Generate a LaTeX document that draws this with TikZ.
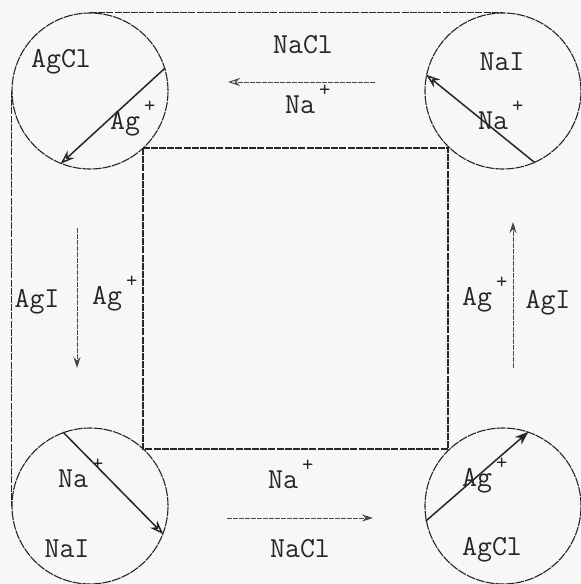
\documentclass[tikz,border=0pt]{standalone}
\usetikzlibrary{arrows.meta}
\definecolor{ink}{HTML}{262626}
\newcommand{\ionplus}[1]{#1\kern4pt\raisebox{17pt}{\fontsize{22}{22}\selectfont +}}
\begin{document}
\begin{tikzpicture}[x=1pt,y=-1pt,
  lbl/.style={font=\ttfamily\fontsize{29}{32}\selectfont, text=ink, inner sep=0pt},
  ionlbl/.style={lbl, anchor=mid west},
  cell/.style={circle, draw=ink, line width=1.1pt, minimum size=156pt, inner sep=0pt, dash pattern=on 9pt off 1pt},
  frame/.style={draw=ink, line width=1.1pt, dash pattern=on 7pt off 1.2pt},
  flux/.style={draw=ink, line width=1.5pt},
  migr/.style={draw=ink!85, line width=1pt, dash pattern=on 5pt off 1pt}
]
\fill[black!3] (0,0) rectangle (581,584);
\useasboundingbox (0,0) rectangle (581,584);
% inner square
\draw[frame] (143,148) rectangle (448,449);
% cells
\node[cell] (tl) at (90,91) {};
\node[cell] (tr) at (503,91) {};
\node[cell] (bl) at (90,506) {};
\node[cell] (br) at (503,506) {};
% outer lines
\draw[frame] (tl.north) -- (tr.north);
\draw[frame] (tl.west) -- (bl.west);
% fluxes in cells
\draw[flux, -{Stealth[open, length=14pt, width=10pt]}] (tl.17) -- (tl.248);
\draw[flux, -{Stealth[open, length=14pt, width=10pt]}] (tr.294) -- (tr.168);
\draw[flux, -{Stealth[open, length=14pt, width=10pt]}] (bl.110) -- (bl.339);
\draw[flux, -{Stealth[length=14pt, width=10pt]}] (br.191) -- (br.71);
% migration arrows
\coordinate (tA) at (375,82); \coordinate (tB) at (228,82);
\coordinate (bA) at (227,518); \coordinate (bB) at (373,518);
\coordinate (lA) at (77,228); \coordinate (lB) at (77,368);
\coordinate (rA) at (513,368); \coordinate (rB) at (513,222);
\draw[migr, -{Stealth[open, length=12pt, width=8pt]}] (tA) -- (tB);
\draw[migr, -{Stealth[length=11pt, width=7pt]}] (bA) -- (bB);
\draw[migr, -{Stealth[length=11pt, width=7pt]}] (lA) -- (lB);
\draw[migr, -{Stealth[length=11pt, width=7pt]}] (rA) -- (rB);
% labels
\node[lbl] (tlsalt) at (61,62) {AgCl};
\node[ionlbl] (tlion) at (110,127) {\ionplus{Ag}};
\node[lbl] (trsalt) at (502,62) {NaI};
\node[ionlbl] (trion) at (478,127) {\ionplus{Na}};
\node[ionlbl] (blion) at (58,485) {\ionplus{Na}};
\node[lbl] (blsalt) at (67,549) {NaI};
\node[ionlbl] (brion) at (462,484) {\ionplus{Ag}};
\node[lbl] (brsalt) at (492,550) {AgCl};
\node[lbl] (tsalt) at (303,45) {NaCl};
\node[ionlbl] (tion) at (285,111) {\ionplus{Na}};
\node[ionlbl] (bion) at (268,486) {\ionplus{Na}};
\node[lbl] (bsalt) at (300,549) {NaCl};
\node[lbl] (lsalt) at (37,302) {AgI};
\node[ionlbl] (lion) at (92,302) {\ionplus{Ag}};
\node[ionlbl] (rion) at (462,303) {\ionplus{Ag}};
\node[lbl] (rsalt) at (548,303) {AgI};
\end{tikzpicture}
\end{document}
